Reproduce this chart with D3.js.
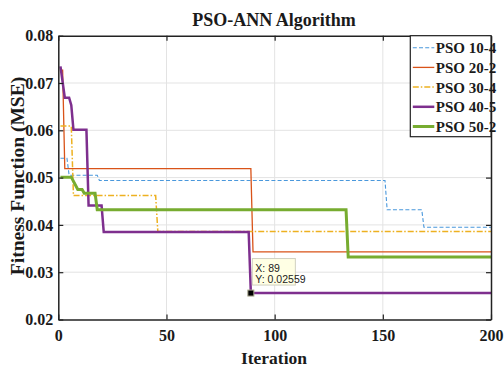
<!DOCTYPE html>
<html>
<head>
<meta charset="utf-8">
<script src="https://cdn.jsdelivr.net/npm/d3@7"></script>
<style>
  body { margin: 0; background: #fff; }
  text { font-family: "Liberation Serif", "Times New Roman", serif; font-weight: bold; }
</style>
</head>
<body>
<svg id="chart" width="504" height="367"></svg>
<script>
// data: [iteration, MSE] at each change point
var pso10_4 = [[1,0.0541],[4,0.0541],[5,0.0505],[18,0.0505],[19,0.0494],[151,0.0494],[152,0.0432],[168,0.0432],[169,0.0395],[200,0.0395]];
var pso20_2 = [[1,0.0727],[2,0.0727],[3,0.0519],[89,0.0519],[90,0.0343],[200,0.0343]];
var pso30_4 = [[1,0.0609],[6,0.0609],[7,0.0462],[45,0.0462],[46,0.0386],[200,0.0386]];
var pso40_5 = [[1,0.0735],[3,0.0669],[5,0.0669],[6,0.0653],[7,0.0601],[13,0.0601],[14,0.0441],[20,0.0441],[21,0.0385],[88,0.0385],[89,0.02559],[200,0.02559]];
var pso50_2 = [[1,0.0501],[6,0.0501],[9,0.0475],[11,0.0475],[12,0.0467],[17,0.0467],[18,0.0432],[133,0.0432],[134,0.0332],[200,0.0332]];

var seriesNames = ["PSO 10-4","PSO 20-2","PSO 30-4","PSO 40-5","PSO 50-2"];
var xTicks = [0,50,100,150,200];
var yTicks = [0.02,0.03,0.04,0.05,0.06,0.07,0.08];
var tip = {x: 89, y: 0.02559};

var series = [
  {name: seriesNames[0], values: pso10_4, color: "#4a98dc", width: 1.1, dash: "4,2.2"},
  {name: seriesNames[1], values: pso20_2, color: "#D95319", width: 1.3, dash: null},
  {name: seriesNames[2], values: pso30_4, color: "#EDB120", width: 1.5, dash: "6,2,1.5,2"},
  {name: seriesNames[3], values: pso40_5, color: "#7E2F8E", width: 2.5, dash: null},
  {name: seriesNames[4], values: pso50_2, color: "#77AC30", width: 3, dash: null}
];

var svg = d3.select("#chart");
var L = 58.3, R = 491, T = 35.7, B = 319.5;

var x = d3.scaleLinear().domain([0,200]).range([L,R]);
var y = d3.scaleLinear().domain([0.02,0.08]).range([B,T]);

// grid
svg.append("g").selectAll("line.gx")
  .data(xTicks.slice(1,-1)).enter().append("line")
  .attr("x1", function(d){return x(d)}).attr("x2", function(d){return x(d)})
  .attr("y1", T).attr("y2", B)
  .attr("stroke", "#e3e3e3").attr("stroke-width", 1);
svg.append("g").selectAll("line.gy")
  .data(yTicks.slice(1,-1)).enter().append("line")
  .attr("y1", function(d){return y(d)}).attr("y2", function(d){return y(d)})
  .attr("x1", L).attr("x2", R)
  .attr("stroke", "#e3e3e3").attr("stroke-width", 1);

// lines
var line = d3.line().x(function(d){return x(d[0])}).y(function(d){return y(d[1])});
svg.append("g").selectAll("path")
  .data(series).enter().append("path")
  .attr("d", function(d){return line(d.values)})
  .attr("fill", "none")
  .attr("stroke", function(d){return d.color})
  .attr("stroke-width", function(d){return d.width})
  .attr("stroke-dasharray", function(d){return d.dash});

// axes (box with inward ticks)
var fmtY = d3.format(".2f");
var xAxis = svg.append("g").attr("transform","translate(0,"+B+")")
  .call(d3.axisBottom(x).tickValues(xTicks).tickSizeInner(-5).tickSizeOuter(0).tickPadding(10));
var xTop = svg.append("g").attr("transform","translate(0,"+T+")")
  .call(d3.axisTop(x).tickValues(xTicks).tickSizeInner(-5).tickSizeOuter(0).tickFormat(""));
var yAxis = svg.append("g").attr("transform","translate("+L+",0)")
  .call(d3.axisLeft(y).tickValues(yTicks).tickSizeInner(-5).tickSizeOuter(0).tickPadding(5).tickFormat(fmtY));
var yRight = svg.append("g").attr("transform","translate("+R+",0)")
  .call(d3.axisRight(y).tickValues(yTicks).tickSizeInner(-5).tickSizeOuter(0).tickFormat(""));
[xAxis, xTop, yAxis, yRight].forEach(function(a){
  a.select(".domain").attr("stroke","#222").attr("stroke-width",1.5);
  a.selectAll(".tick line").attr("stroke","#222").attr("stroke-width",1.2);
  a.selectAll("text").attr("font-family","Liberation Serif, Times New Roman, serif")
    .attr("font-weight","bold").attr("font-size",16).attr("fill","#1a1a1a");
});

// datatip
svg.append("rect").attr("x", x(tip.x)+1.5).attr("y", y(tip.y)-34.5)
  .attr("width", 43).attr("height", 26.5)
  .attr("fill", "#ffffe4").attr("stroke", "#d0d0c0").attr("stroke-width", 1);
svg.append("text").attr("x", x(tip.x)+4.5).attr("y", y(tip.y)-21.5)
  .style("font-family","Liberation Sans, Arial, sans-serif").style("font-weight","normal")
  .attr("font-size", 10.5).attr("fill","#222").text("X: " + tip.x);
svg.append("text").attr("x", x(tip.x)+4.5).attr("y", y(tip.y)-10.5)
  .style("font-family","Liberation Sans, Arial, sans-serif").style("font-weight","normal")
  .attr("font-size", 10.5).attr("fill","#222").text("Y: " + tip.y);
svg.append("rect").attr("x", x(tip.x)-3).attr("y", y(tip.y)-3)
  .attr("width", 6).attr("height", 6)
  .attr("fill", "#000").attr("stroke", "#aaa890").attr("stroke-width", 1);

// legend
var lg = svg.append("g").attr("transform","translate(410.3,"+T+")");
lg.append("rect").attr("width", R-410.3).attr("height", 101)
  .attr("fill","#fff").attr("stroke","#222").attr("stroke-width",1.2);
var items = lg.selectAll("g.item").data(series).enter().append("g")
  .attr("transform", function(d,i){return "translate(0,"+(12+i*19.7)+")"});
items.append("line").attr("x1",2.5).attr("x2",24)
  .attr("stroke", function(d){return d.color})
  .attr("stroke-width", function(d){return d.width})
  .attr("stroke-dasharray", function(d){return d.dash});
items.append("text").attr("x",25.5).attr("y",5.5)
  .attr("font-size",15).attr("fill","#1a1a1a")
  .text(function(d){return d.name});

// titles
svg.append("text").attr("x", 274).attr("y", 26).attr("text-anchor","middle")
  .attr("font-size",18).attr("fill","#1a1a1a").text("PSO-ANN Algorithm");
svg.append("text").attr("x", 274).attr("y", 364).attr("text-anchor","middle")
  .attr("font-size",17.5).attr("fill","#1a1a1a").text("Iteration");
svg.append("text").attr("transform","translate(24,176) rotate(-90)").attr("text-anchor","middle")
  .attr("font-size",19.5).attr("fill","#1a1a1a").text("Fitness Function (MSE)");
</script>
</body>
</html>
